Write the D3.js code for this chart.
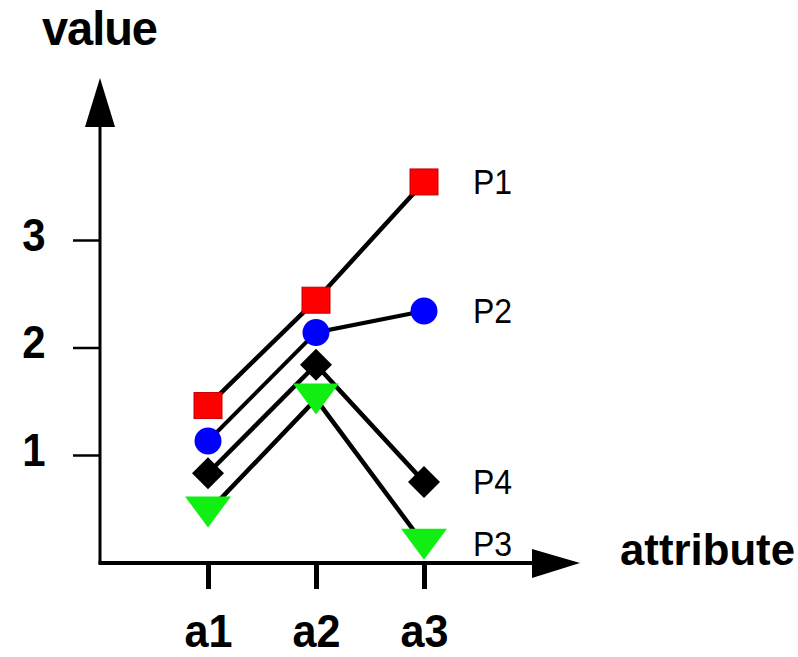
<!DOCTYPE html>
<html>
<head>
<meta charset="utf-8">
<script src="https://cdn.jsdelivr.net/npm/d3@7"></script>
<style>
  html, body { margin: 0; padding: 0; background: #ffffff; }
  svg { display: block; }
  text { font-family: Arial, "Liberation Sans", Helvetica, sans-serif; fill: #000; }
</style>
</head>
<body>
<svg id="chart" width="798" height="657"></svg>
<script>
// ---- data ----
const categories = ["a1", "a2", "a3"];
const seriesNames = ["P1", "P2", "P3", "P4"];
const p1Values = [1.46, 2.44, 3.54];
const p2Values = [1.13, 2.14, 2.34];
const p3Values = [0.47, 1.52, 0.17];
const p4Values = [0.83, 1.84, 0.75];
const yTickValues = [1, 2, 3];
const yAxisTitle = "value";
const xAxisTitle = "attribute";

const seriesValues = [p1Values, p2Values, p3Values, p4Values];
const markerTypes = ["square", "circle", "triangle", "diamond"];
const markerColors = ["#ff0000", "#0000ff", "#11ee11", "#000000"];

// ---- layout ----
const svg = d3.select("#chart");
const originX = 100, originY = 563;

const x = d3.scalePoint().domain(categories).range([208, 424]);
const y = d3.scaleLinear().domain([0, 3]).range([562.5, 240]);

// y axis line + arrow
svg.append("line").attr("x1", originX).attr("x2", originX)
  .attr("y1", originY + 1).attr("y2", 125)
  .attr("stroke", "#000").attr("stroke-width", 3);
svg.append("path").attr("d", `M${originX},78 L${originX - 15},127 L${originX + 15},127 Z`).attr("fill", "#000");

// x axis line + arrow
svg.append("line").attr("x1", originX - 1.5).attr("x2", 534)
  .attr("y1", originY).attr("y2", originY)
  .attr("stroke", "#000").attr("stroke-width", 4);
svg.append("path").attr("d", `M580,${originY} L532,${originY - 14} L532,${originY + 15} Z`).attr("fill", "#000");

// y axis ticks via d3 axis
const yAxisG = svg.append("g").attr("transform", `translate(${originX},0)`)
  .call(d3.axisLeft(y).tickValues(yTickValues).tickSize(27).tickFormat(d3.format("d")));
yAxisG.select(".domain").remove();
yAxisG.selectAll(".tick line").attr("stroke", "#000").attr("stroke-width", 2.5);
yAxisG.selectAll(".tick text").remove();
yAxisG.selectAll(".tick").append("text")
  .attr("transform", "translate(-66,10) scale(1,1.12)")
  .attr("text-anchor", "middle")
  .style("font-size", "42px").style("font-weight", "bold")
  .attr("fill", "#000")
  .text(d => d3.format("d")(d));

// x axis ticks via d3 axis
const xAxisG = svg.append("g").attr("transform", `translate(0,${originY})`)
  .call(d3.axisBottom(x).tickSize(26));
xAxisG.select(".domain").remove();
xAxisG.selectAll(".tick line").attr("stroke", "#000").attr("stroke-width", 5);
xAxisG.selectAll(".tick text").remove();
xAxisG.selectAll(".tick").append("text")
  .attr("transform", "translate(0,84) scale(1,1.12)")
  .attr("text-anchor", "middle")
  .attr("textLength", 48).attr("lengthAdjust", "spacingAndGlyphs")
  .style("font-size", "41px").style("font-weight", "bold")
  .attr("fill", "#000")
  .text(d => d);

// axis titles
svg.append("text").attr("transform", "translate(42,45) scale(1,1.02)")
  .attr("textLength", 116).attr("lengthAdjust", "spacing")
  .style("font-size", "47px").style("font-weight", "bold")
  .text(yAxisTitle);
svg.append("text").attr("transform", "translate(620,565)")
  .attr("textLength", 175).attr("lengthAdjust", "spacingAndGlyphs")
  .style("font-size", "44px").style("font-weight", "bold")
  .text(xAxisTitle);

// lines
const lineGen = d3.line().x((d, i) => x(categories[i])).y(d => y(d));
seriesValues.forEach((vals, si) => {
  svg.append("path").datum(vals)
    .attr("d", lineGen)
    .attr("fill", "none").attr("stroke", "#000")
    .attr("stroke-width", si === 1 ? 4 : 4.5);
});

// markers
function drawMarker(g, type, cx, cy, color) {
  if (type === "square") {
    g.append("rect").attr("x", cx - 14).attr("y", cy - 13).attr("width", 28).attr("height", 26)
      .attr("fill", color).attr("stroke", "#c40000").attr("stroke-width", 1);
  } else if (type === "circle") {
    g.append("circle").attr("cx", cx).attr("cy", cy).attr("r", 13.5).attr("fill", color);
  } else if (type === "diamond") {
    g.append("path").attr("d", `M${cx},${cy - 16} L${cx + 16},${cy} L${cx},${cy + 16} L${cx - 16},${cy} Z`)
      .attr("fill", color);
  } else if (type === "triangle") {
    g.append("path").attr("d", `M${cx - 23},${cy - 15.5} L${cx + 23},${cy - 15.5} L${cx},${cy + 15.5} Z`)
      .attr("fill", color);
  }
}
const markerG = svg.append("g");
seriesValues.forEach((vals, si) => {
  vals.forEach((v, i) => {
    drawMarker(markerG, markerTypes[si], x(categories[i]), y(v), markerColors[si]);
  });
});

// series labels at the end
seriesValues.forEach((vals, si) => {
  const last = vals[vals.length - 1];
  svg.append("text")
    .attr("transform", `translate(${x(categories[categories.length - 1]) + 49},${y(last) + 12}) scale(1,1.1)`)
    .style("font-size", "32px")
    .text(seriesNames[si]);
});
</script>
</body>
</html>
